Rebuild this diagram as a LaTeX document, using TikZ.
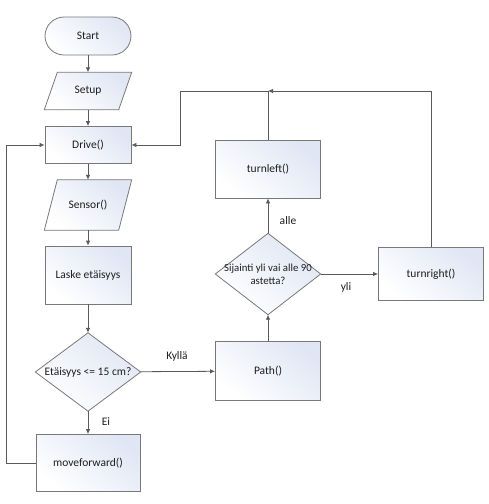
\documentclass[tikz,border=0pt]{standalone}
\usepackage{fontspec}
\setmainfont{Carlito}
\usetikzlibrary{arrows.meta}
\definecolor{shapeline}{RGB}{120,120,120}
\definecolor{conline}{RGB}{90,90,90}
\definecolor{shadeblue}{RGB}{224,230,244}
\definecolor{txt}{RGB}{30,30,30}
\tikzset{
  box/.style={draw=shapeline, line width=0.8pt, top color=shadeblue, bottom color=white, shading angle=-40, text=txt, font=\fontsize{11.5}{13}\selectfont, inner sep=0pt},
  ghost/.style={draw=none, text=txt, font=\fontsize{11.5}{13}\selectfont, inner sep=0pt},
  outl/.style={draw=shapeline, line width=0.8pt, top color=shadeblue, bottom color=white, shading angle=-40},
  con/.style={draw=conline, line width=0.8pt},
  arr/.style={con, -{Latex[length=5pt,width=4.5pt]}},
  lbl/.style={text=txt, font=\fontsize{11.5}{13}\selectfont, inner sep=0pt}
}
\begin{document}
\begin{tikzpicture}[x=1pt,y=-1pt]
\useasboundingbox (0,0) rectangle (489,504);
% Start terminal
\node[box, rounded corners=19pt, minimum width=86pt, minimum height=38pt] (start) at (88,36) {Start};
% Setup parallelogram
\node[ghost, minimum width=87pt, minimum height=37pt] (setup) at (88,91) {};
\path[outl] ([xshift=13pt]setup.north west) -- (setup.north east) -- ([xshift=-13pt]setup.south east) -- (setup.south west) -- cycle;
\node[lbl] at (setup) {Setup};
% Drive
\node[box, minimum width=86pt, minimum height=37pt] (drive) at (88,145) {Drive()};
% Sensor parallelogram
\node[ghost, minimum width=87pt, minimum height=50pt] (sensor) at (88,205) {};
\path[outl] ([xshift=13pt]sensor.north west) -- (sensor.north east) -- ([xshift=-13pt]sensor.south east) -- (sensor.south west) -- cycle;
\node[lbl] at (sensor) {Sensor()};
% Laske
\node[box, minimum width=86pt, minimum height=58pt] (laske) at (88,275) {Laske etäisyys};
% Diamond 1
\node[ghost, minimum width=105pt, minimum height=78pt] (d1) at (88,372) {};
\path[outl] (d1.north) -- (d1.east) -- (d1.south) -- (d1.west) -- cycle;
\node[lbl] at (d1) {Etäisyys <= 15 cm?};
% moveforward
\node[box, minimum width=104pt, minimum height=57pt] (move) at (88,463) {moveforward()};
% Path
\node[box, minimum width=105pt, minimum height=59pt] (path) at (268,371) {Path()};
% Diamond 2
\node[ghost, minimum width=105pt, minimum height=81pt] (d2) at (268,274) {};
\path[outl] (d2.north) -- (d2.east) -- (d2.south) -- (d2.west) -- cycle;
\node[lbl, align=center, font=\fontsize{10.8}{13}\selectfont] at (d2) {Sijainti yli vai alle 90\\astetta?};
% turnleft
\node[box, minimum width=105pt, minimum height=58pt] (tl) at (268,169) {turnleft()};
% turnright
\node[box, minimum width=105pt, minimum height=53pt] (tr) at (431,274) {turnright()};
% junction coordinates
\coordinate (j) at (268,91);
\coordinate (jl) at (180,91);
\coordinate (jr) at (431,91);
\coordinate (lb) at (6,463);
\coordinate (lt) at (6,145);
% connectors
\draw[arr] (start) -- (setup);
\draw[arr] (setup) -- (drive);
\draw[arr] (drive) -- (sensor);
\draw[arr] (sensor) -- (laske);
\draw[arr] (laske) -- (d1);
\draw[arr] (d1) -- (move);
\draw[arr] (d1) -- (path);
\draw[arr] (path) -- (d2);
\draw[arr] (d2) -- (tl);
\draw[arr] (d2) -- (tr);
\draw[arr] (move.west) -- (lb) -- (lt) -- (drive.west);
\draw[arr] (tl.north) -- (j) -- (jl) |- (drive.east);
\draw[arr] (tr.north) -- (jr) -- (j);
% labels
\node[lbl] (lk) at (177,356) {Kyllä};
\node[lbl] (le) at (106,422) {Ei};
\node[lbl] (la) at (288,221) {alle};
\node[lbl] (ly) at (346,287) {yli};
\end{tikzpicture}
\end{document}
